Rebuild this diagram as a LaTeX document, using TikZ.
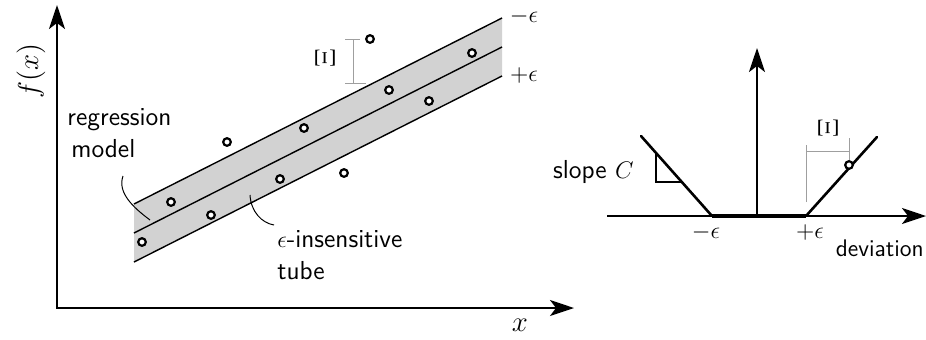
\documentclass[tikz,border=0pt]{standalone}
\usetikzlibrary{arrows.meta}
\begin{document}
\begin{tikzpicture}[x=0.5pt,y=-0.5pt,
  axis/.style={line width=1pt,{Stealth[length=12pt,width=8pt,inset=3pt]}-{Stealth[length=12pt,width=8pt,inset=3pt]}},
  raxis/.style={line width=1.2pt,-{Stealth[length=12pt,width=8pt,inset=3pt]}},
  tubeline/.style={line width=0.7pt},
  tubefill/.style={fill=gray!35},
  datapt/.style={circle,draw,line width=1.1pt,inner sep=0pt,minimum size=3.8pt,fill=white},
  errline/.style={draw=gray!75,line width=0.5pt},
  lbl/.style={font=\sffamily\fontsize{13}{17}\selectfont},
  mlbl/.style={font=\fontsize{13}{14}\selectfont,inner sep=0pt},
  xilbl/.style={rotate=90,inner sep=0pt,font=\fontsize{14}{14}\selectfont},
  leader/.style={line width=0.5pt},
  hinge/.style={line width=1.3pt},
]
\useasboundingbox (0,0) rectangle (926,339);
% ---------- left plot ----------
\coordinate (UL) at (134,204); \coordinate (UR) at (502,18);
\coordinate (ML) at (134,233); \coordinate (MR) at (502,47);
\coordinate (LL) at (134,262); \coordinate (LR) at (502,76);
\fill[tubefill] (UL) -- (UR) -- (LR) -- (LL) -- cycle;
\draw[tubeline] (UL) -- (UR);
\draw[tubeline] (ML) -- (MR);
\draw[tubeline] (LL) -- (LR);

\coordinate (O) at (57,308);
\coordinate (Ytip) at (57,5);
\coordinate (Xtip) at (574,308);
\draw[axis] (Ytip) -- (O) -- (Xtip);
\node[rotate=90,font=\fontsize{15}{15}\selectfont] (fx) at (31,71) {$f(x)$};
\node[font=\fontsize{15}{15}\selectfont] (xl) at (520,325) {$x$};

\node[mlbl] (meps) at (524,16) {$-\epsilon$};
\node[mlbl] (peps) at (524,75) {$+\epsilon$};

% error bar
\coordinate (e1) at (353,39); \coordinate (e2) at (353,83);
\coordinate (c1a) at (345,39); \coordinate (c1b) at (360,39);
\coordinate (c2a) at (345,83); \coordinate (c2b) at (366,83);
\draw[errline] (e1) -- (e2);
\draw[errline] (c1a) -- (c1b);
\draw[errline] (c2a) -- (c2b);
\node[xilbl] (xiL) at (325,58) {$\Xi$};

% data points
\node[datapt] (p1) at (142,242) {};
\node[datapt] (p2) at (171,202) {};
\node[datapt] (p3) at (211,215) {};
\node[datapt] (p4) at (227,142) {};
\node[datapt] (p5) at (280,179) {};
\node[datapt] (p6) at (304,128) {};
\node[datapt] (p7) at (344,173) {};
\node[datapt] (p8) at (370,39) {};
\node[datapt] (p9) at (389,90) {};
\node[datapt] (p10) at (429,101) {};
\node[datapt] (p11) at (472,53) {};

% labels with leaders
\node[lbl,align=left,anchor=north west,inner sep=0pt] (reg) at (67,108) {regression\\[-1pt]\hspace*{2pt}model};
\coordinate (r1) at (123,176); \coordinate (r2) at (150,220);
\draw[leader] (r1) .. controls (117,193) and (134,208) .. (r2);
\node[lbl,align=left,anchor=north west,inner sep=0pt] (tube) at (277,230) {$\epsilon$-insensitive\\[-1pt]tube};
\coordinate (t1) at (250,195); \coordinate (t2) at (274,225);
\draw[leader] (t1) .. controls (251,212) and (262,223) .. (t2);

% ---------- right plot ----------
\coordinate (RO) at (607,216);
\coordinate (RX) at (926,216);
\coordinate (RV) at (757,216);
\coordinate (RVtip) at (757,48);
\draw[raxis] (RO) -- (RX);
\draw[raxis] (RV) -- (RVtip);
\coordinate (hm) at (712,216); \coordinate (hp) at (806,216);
\coordinate (hl) at (641,136); \coordinate (hr) at (877,137);
\draw[line width=2.3pt] (hm) -- (hp);
\draw[hinge,line cap=round] (hl) -- (hm);
\draw[hinge,line cap=round] (hp) -- (hr);
% slope triangle
\coordinate (s1) at (656,153); \coordinate (s2) at (656,182); \coordinate (s3) at (682,182);
\draw[line width=1pt] (s1) -- (s2) -- (s3);
\node[lbl,anchor=east,inner sep=0pt] (slope) at (634,172) {slope $C$};
% error bar right
\coordinate (f1) at (806,202); \coordinate (f2) at (806,145);
\coordinate (g1) at (806,151); \coordinate (g2) at (849,151);
\coordinate (h1) at (849,138);
\node[datapt] (q) at (849,165) {};
\draw[errline] (f1) -- (f2);
\draw[errline] (g1) -- (g2);
\draw[errline] (h1) -- (q);
\node[xilbl] (xiR) at (828,128) {$\Xi$};
\node[mlbl] (rme) at (706,232) {$-\epsilon$};
\node[mlbl] (rpe) at (810,232) {$+\epsilon$};
\node[anchor=base east,inner sep=0pt,font=\sffamily\fontsize{12}{14}\selectfont] (dev) at (924,256) {deviation};
\end{tikzpicture}
\end{document}
